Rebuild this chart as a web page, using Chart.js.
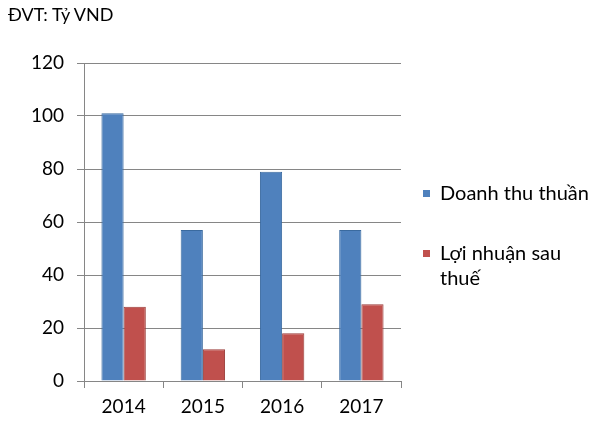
<!DOCTYPE html>
<html>
<head>
<meta charset="utf-8">
<script src="https://cdn.jsdelivr.net/npm/chart.js@4"></script>
<style>
  html, body { margin: 0; padding: 0; background: #fff; }
  #wrap { position: relative; width: 600px; height: 426px; font-family: Lato, "Open Sans", sans-serif; color: #000; }
  #unit { position: absolute; left: 8px; top: 3px; font-size: 18px; }
  #legend { position: absolute; left: 423px; top: 180px; font-size: 20px; line-height: 25px; }
  .item { position: relative; padding-left: 17px; }
  .box { position: absolute; left: 0; top: 10px; width: 7px; height: 7px; }
</style>
</head>
<body>
<div id="wrap">
  <canvas id="myChart" width="600" height="426"></canvas>
  <div id="unit">ĐVT: Tỷ VND</div>
  <div id="legend"></div>
</div>
<script>
const years = ['2014', '2015', '2016', '2017'];
const revenue = [101, 57, 79, 57];
const profit = [28, 12, 18, 29];
const seriesNames = ['Doanh thu thuần', 'Lợi nhuận sau thuế'];
const yTicks = [0, 20, 40, 60, 80, 100, 120];

const blue = '#4F81BD';
const red = '#C0504D';
const gridColor = '#868686';

const ctx = document.getElementById('myChart').getContext('2d');
const chart = new Chart(ctx, {
  type: 'bar',
  data: {
    labels: years,
    datasets: [
      { label: seriesNames[0], data: revenue, backgroundColor: blue, borderColor: '#3A6A9F', borderWidth: 1 },
      { label: seriesNames[1], data: profit, backgroundColor: red, borderColor: '#9A3C39', borderWidth: 1 }
    ]
  },
  options: {
    responsive: false,
    animation: false,
    layout: { padding: { left: 0, top: 63, right: 199, bottom: 0 } },
    plugins: { legend: { display: false }, tooltip: { enabled: false } },
    datasets: { bar: { categoryPercentage: 0.56, barPercentage: 1 } },
    scales: {
      x: {
        grid: { offset: true, drawOnChartArea: false, drawTicks: true, tickLength: 7, color: gridColor },
        border: { color: gridColor },
        ticks: { color: '#000', font: { family: 'Lato', size: 19 }, padding: 7 },
        afterFit: s => { s.height = 45; }
      },
      y: {
        min: 0,
        max: 120,
        afterBuildTicks: s => { s.ticks = yTicks.map(v => ({ value: v })); },
        grid: { color: gridColor, tickLength: 7 },
        border: { color: gridColor },
        ticks: { color: '#000', font: { family: 'Lato', size: 19 }, padding: 13 },
        afterFit: s => { s.width = 84; }
      }
    }
  }
});

// legend
const legend = document.getElementById('legend');
const colors = [blue, red];
const legendText = ['Doanh thu thuần', 'Lợi nhuận sau<br>thuế'];
legend.innerHTML = legendText.map((t, i) =>
  '<div class="item" style="margin-bottom:' + (i === 0 ? 35 : 0) + 'px"><span class="box" style="background:' + colors[i] + '"></span>' + t + '</div>'
).join('');
</script>
</body>
</html>
